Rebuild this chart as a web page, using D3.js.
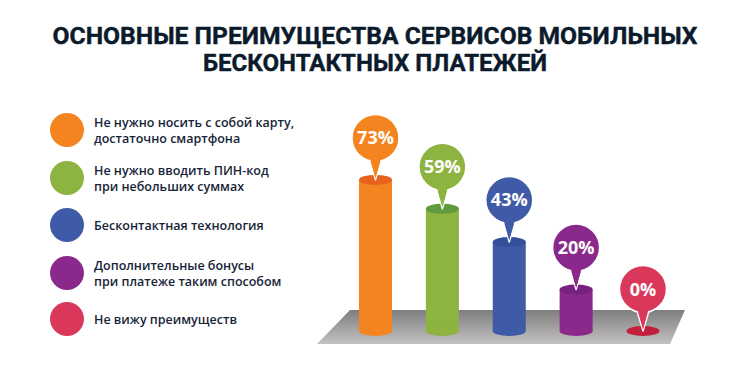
<!DOCTYPE html>
<html><head><meta charset="utf-8">
<script src="https://cdn.jsdelivr.net/npm/d3@7"></script>
<style>body{margin:0;background:#fff}svg{display:block}</style>
</head><body>
<svg id="c" width="750" height="381"></svg>
<script>
const titleLines = ["ОСНОВНЫЕ ПРЕИМУЩЕСТВА СЕРВИСОВ МОБИЛЬНЫХ", "БЕСКОНТАКТНЫХ ПЛАТЕЖЕЙ"];
const categories = [
  ["Не нужно носить с собой карту,", "достаточно смартфона"],
  ["Не нужно вводить ПИН-код", "при небольших суммах"],
  ["Бесконтактная технология"],
  ["Дополнительные бонусы", "при платеже таким способом"],
  ["Не вижу преимуществ"]
];
const values = [73, 59, 43, 20, 0];
const colors = ["#f4841f", "#8db340", "#3f5ba8", "#8a298b", "#d9385a"];
const topColors = ["#e8621e", "#5f9a3c", "#34509a", "#772181", "#c21f3c"];

const svg = d3.select("#c");
const defs = svg.append("defs");
const pg = defs.append("linearGradient").attr("id","plat").attr("x1",0).attr("y1",0).attr("x2",0).attr("y2",1);
pg.append("stop").attr("offset","0%").attr("stop-color","#7f7e7f");
pg.append("stop").attr("offset","100%").attr("stop-color","#c3c1c2");

// title
svg.selectAll("text.title").data(titleLines).join("text")
  .attr("class","title")
  .attr("x", 375).attr("y", (d,i)=>44+i*27)
  .attr("text-anchor","middle")
  .attr("font-family","Roboto, 'Open Sans', sans-serif")
  .attr("font-weight",700).attr("font-size",24)
  .attr("fill","#0b1b2c")
  .attr("stroke","#0b1b2c").attr("stroke-width",0.4)
  .attr("textLength",(d,i)=> i===0 ? 645 : 344)
  .attr("lengthAdjust","spacingAndGlyphs")
  .text(d=>d);

// legend
const legY = [130, 178, 225, 273, 319];
const leg = svg.append("g").selectAll("g").data(categories).join("g")
  .attr("transform",(d,i)=>`translate(0,${legY[i]})`);
leg.append("circle").attr("cx",67).attr("cy",0).attr("r",17).attr("fill",(d,i)=>colors[i]);
leg.each(function(d){
  const g = d3.select(this);
  const n = d.length;
  g.selectAll("text").data(d).join("text")
    .attr("x",94)
    .attr("y",(t,j)=> (j-(n-1)/2)*16 + 4.5)
    .attr("font-family","'Open Sans', sans-serif")
    .attr("font-weight",600).attr("font-size",12.5)
    .attr("fill","#172538")
    .text(t=>t);
});

// platform
const platform = [[350,310],[685,310],[670,344],[317,344]];
svg.append("path").attr("d", d3.line()(platform) + "Z").attr("fill","url(#plat)");

// scales
const x = d3.scalePoint().domain(d3.range(values.length)).range([375.5, 643]);
const y = d3.scaleLinear().domain([0,100]).range([331, 331-207]);
const w = 33, ry = 5;

const bars = svg.append("g").selectAll("g").data(values).join("g");
bars.each(function(v,i){
  const g = d3.select(this);
  const cx = x(i), top = y(v), base = y(0);
  if (v > 0) {
    g.append("rect").attr("x",cx-w/2).attr("y",top).attr("width",w).attr("height",base-top).attr("fill",colors[i]);
    g.append("ellipse").attr("cx",cx).attr("cy",base).attr("rx",w/2).attr("ry",ry).attr("fill",colors[i]);
  }
  g.append("ellipse").attr("cx",cx).attr("cy",top).attr("rx",w/2).attr("ry",ry).attr("fill", topColors[i]);
  // bubble
  const r = 23.5, by = top - 42;
  const pin = `M${cx-7},${by+r-5} L${cx},${top} L${cx+7},${by+r-5} Z`;
  g.append("path").attr("d",pin).attr("fill",colors[i]).attr("stroke","#fff").attr("stroke-width",1.5).attr("stroke-linejoin","round");
  g.append("circle").attr("cx",cx).attr("cy",by).attr("r",r).attr("fill",colors[i]).attr("stroke","#fff").attr("stroke-width",1.5);
  g.append("path").attr("d",`M${cx-6.3},${by+r-6} L${cx},${top-1.5} L${cx+6.3},${by+r-6} Z`).attr("fill",colors[i]);
  g.append("text").attr("x",cx).attr("y",by+6.5)
    .attr("text-anchor","middle")
    .attr("font-family","'Open Sans', sans-serif").attr("font-weight",700).attr("font-size",18)
    .attr("fill","#fff").text(v+"%");
});
</script>
</body></html>
